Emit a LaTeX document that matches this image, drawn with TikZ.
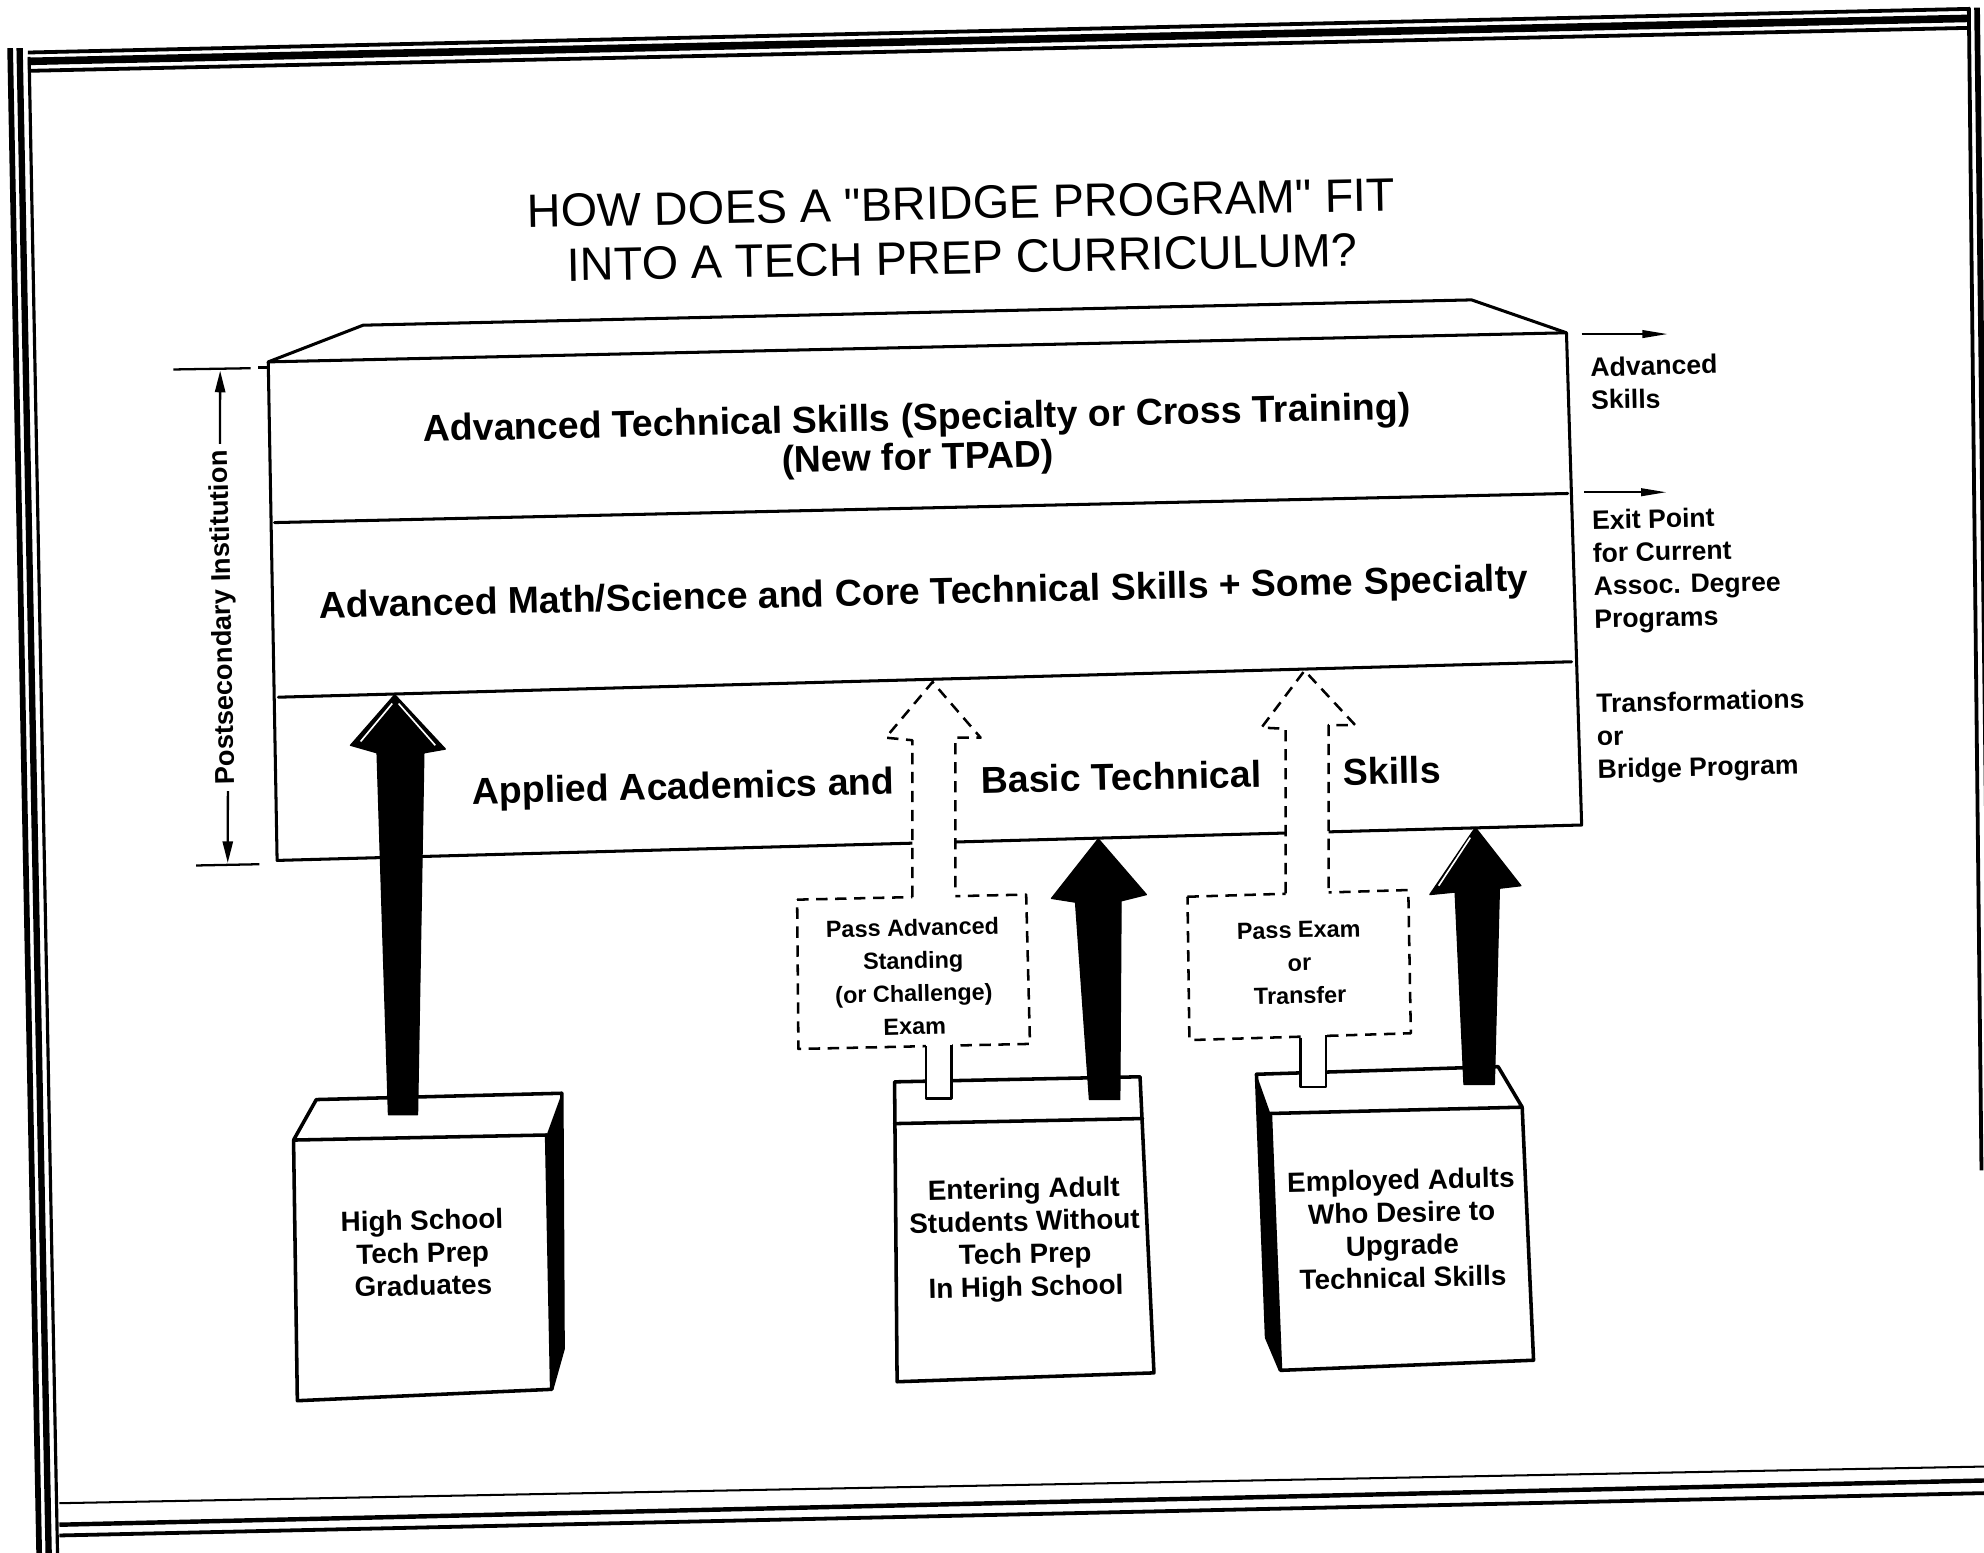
\documentclass[tikz,border=0pt]{standalone}
\usepackage{fontspec}
\setmainfont{Liberation Sans}
\newfontfamily\titlefont{Liberation Sans}[Ligatures=TeXOff]
\usetikzlibrary{arrows.meta}
\begin{document}
\begin{tikzpicture}[x=1pt,y=-1pt,
  edge/.style={line width=2.4pt, line join=round, line cap=round},
  boxedge/.style={line width=2.8pt, line join=round, line cap=round},
  dashedge/.style={line width=2pt, dash pattern=on 9pt off 6pt, line join=round},
  stubedge/.style={line width=2pt, line join=round},
  solidarrow/.style={fill=black, draw=black, line width=1pt, line join=round},
  highlight/.style={white, line width=1.3pt},
  dimline/.style={line width=1.8pt},
  exitarrow/.style={line width=1.6pt, -{Triangle[length=20pt,width=6pt]}},
  titletext/.style={font=\titlefont\fontsize{37}{43}\selectfont, inner sep=0pt, rotate=1.1, align=center},
  bodytext/.style={font=\bfseries\fontsize{29.6}{31}\selectfont, inner sep=0pt, rotate=1.3, align=center},
  sidetext/.style={font=\bfseries\fontsize{21}{26}\selectfont, inner sep=0pt, rotate=1.3, anchor=west, align=left},
  boxtext/.style={font=\bfseries\fontsize{22}{25.8}\selectfont, inner sep=0pt, rotate=1.3, align=center},
  examtext/.style={font=\bfseries\fontsize{18.5}{26}\selectfont, inner sep=0pt, rotate=1.3, align=center},
]
\useasboundingbox (0,0) rectangle (1568,1227);
\fill[white] (0,0) rectangle (1568,1227);
\clip (0,0) rectangle (1568,1227);

% ---------- page frame ----------
\draw[line width=4.5pt] (8,38) -- (31,1230);
\draw[line width=5pt] (15.5,38) -- (38.5,1230);
\draw[line width=2.5pt] (23,45) -- (45.5,1230);
\draw[line width=3pt] (22,41.5) -- (1557,7);
\draw[line width=6pt] (22,48.5) -- (1557,14.5);
\draw[line width=3pt] (22,56) -- (1557,22);
\draw[line width=3pt] (1556,6) -- (1566,925);
\draw[line width=4.5pt] (1562.5,6) -- (1571,700);
\draw[line width=1.6pt] (47,1188) -- (1570,1159);
\draw[line width=3.5pt] (47,1205) -- (1570,1170);
\draw[line width=3pt] (47,1213.5) -- (1570,1180);

% ---------- title ----------
\node[titletext] (title) at (760,182) {HOW DOES A "BRIDGE PROGRAM" FIT\\INTO A TECH PREP CURRICULUM?};

% ---------- postsecondary block ----------
\coordinate (mTL) at (212,286);
\coordinate (mTR) at (1238,263);
\coordinate (mBR) at (1250,652);
\coordinate (mBL) at (219,680);
\coordinate (bkL) at (287,257);
\coordinate (bkR) at (1163,237);
\coordinate (d1L) at (217,413);
\coordinate (d1R) at (1239,390);
\coordinate (d2L) at (220,551);
\coordinate (d2R) at (1242,523);
\draw[edge] (mTL) -- (mTR) -- (mBR) -- (mBL) -- cycle;
\draw[edge] (mTL) -- (bkL) -- (bkR) -- (mTR);
\draw[edge] (d1L) -- (d1R);
\draw[edge] (d2L) -- (d2R);

% ---------- dimension marker ----------
\node[font=\bfseries\fontsize{21.5}{24}\selectfont, rotate=91.3, inner sep=5pt] (postsec) at (177,488) {Postsecondary Institution};
\coordinate (dimTop) at (174,293);
\coordinate (dimBot) at (180,682);
\draw[dimline, -{Triangle[length=17pt,width=8pt]}] (postsec.east) -- (dimTop);
\draw[dimline, -{Triangle[length=17pt,width=8pt]}] (postsec.west) -- (dimBot);
\draw[dimline] (137,292) -- (198,291);
\draw[dimline] (204,290.5) -- (211,290.5);
\draw[dimline] (155,684) -- (205,683);

% ---------- exit arrows and labels ----------
\coordinate (exA0) at (1250,264);
\coordinate (exA1) at (1318,264);
\coordinate (exB0) at (1252,389);
\coordinate (exB1) at (1317,389);
\draw[exitarrow] (exA0) -- (exA1);
\draw[exitarrow] (exB0) -- (exB1);
\node[sidetext] (advskills) at (1257,303) {Advanced\\Skills};
\node[sidetext] (exitpt) at (1259,452) {Exit Point\\for Current\\Assoc. Degree\\Programs};
\node[sidetext] (bridge) at (1262,584) {Transformations\\or\\Bridge Program};

% ---------- student groups ----------
% high school graduates (right side shaded)
\coordinate (b1ftl) at (232,901);
\coordinate (b1ftr) at (432,897);
\coordinate (b1fbr) at (436,1098);
\coordinate (b1fbl) at (235,1107);
\coordinate (b1btl) at (250,869);
\coordinate (b1btr) at (444,864);
\coordinate (b1bbr) at (445,1066);
\fill[black] (b1ftr) -- (b1btr) -- (b1bbr) -- (b1fbr) -- cycle;
\draw[boxedge] (b1ftl) -- (b1ftr) -- (b1fbr) -- (b1fbl) -- cycle;
\draw[boxedge] (b1ftl) -- (b1btl) -- (b1btr) -- (b1bbr) -- (b1fbr);
% entering adults (seen straight on)
\coordinate (b2tl) at (707,855);
\coordinate (b2tr) at (901,851);
\coordinate (b2br) at (912,1085);
\coordinate (b2bl) at (709,1092);
\coordinate (b2fl) at (707,888);
\coordinate (b2fr) at (903,884);
\draw[boxedge] (b2tl) -- (b2tr) -- (b2br) -- (b2bl) -- cycle;
\draw[boxedge] (b2fl) -- (b2fr);
% employed adults (left side shaded)
\coordinate (b3ftl) at (1004,880);
\coordinate (b3ftr) at (1203,875);
\coordinate (b3fbr) at (1212,1075);
\coordinate (b3fbl) at (1012,1083);
\coordinate (b3btl) at (993,849);
\coordinate (b3btr) at (1184,843);
\coordinate (b3bbl) at (1001,1057);
\fill[black] (b3btl) -- (b3ftl) -- (b3fbl) -- (b3bbl) -- cycle;
\draw[boxedge] (b3ftl) -- (b3ftr) -- (b3fbr) -- (b3fbl) -- cycle;
\draw[boxedge] (b3ftr) -- (b3btr) -- (b3btl) -- (b3bbl) -- (b3fbl);

% ---------- exam boxes ----------
\coordinate (xaTL) at (630,711);
\coordinate (xaTR) at (811,707);
\coordinate (xaBR) at (814,825);
\coordinate (xaBL) at (631,829);
\draw[dashedge, fill=white] (xaTL) -- (xaTR) -- (xaBR) -- (xaBL) -- cycle;
\coordinate (xbTL) at (938.5,708.7);
\coordinate (xbTR) at (1113,703.4);
\coordinate (xbBR) at (1115,816.6);
\coordinate (xbBL) at (940,822);
\draw[dashedge, fill=white] (xbTL) -- (xbTR) -- (xbBR) -- (xbBL) -- cycle;

% stubs joining the exam boxes to the groups
\fill[white] (732,823) rectangle (752,868);
\draw[stubedge] (732,827) -- (732,868) -- (752,868) -- (752,826);
\fill[white] (1028,816) rectangle (1048,859);
\draw[stubedge] (1028,820) -- (1028,859) -- (1048,859) -- (1048,818);

% ---------- open (dashed) arrows ----------
\coordinate (aTip) at (737,539);
\fill[white] (721,712) -- (721,585) -- (700,583) -- (aTip) -- (775,583) -- (755,583) -- (755,710) -- cycle;
\draw[dashedge] (721,709) -- (721,585) -- (700,583) -- (aTip) -- (775,583) -- (755,583) -- (755,707);
\coordinate (bTip) at (1031,530);
\fill[white] (1016,709) -- (1016,576) -- (997,575) -- (bTip) -- (1071,573) -- (1050,573) -- (1050,708) -- cycle;
\draw[dashedge] (1016,706) -- (1016,576) -- (997,575) -- (bTip) -- (1071,573) -- (1050,573) -- (1050,705);

% ---------- solid arrows ----------
\coordinate (s1Tip) at (312,549);
\fill[solidarrow] (307,881) -- (298,595) -- (277,589) -- (s1Tip) -- (352,592) -- (335,595) -- (330,881) -- cycle;
\draw[highlight] (310,556) -- (285,586);
\draw[highlight] (315,556) -- (344,589);
\coordinate (s2Tip) at (868,663);
\fill[solidarrow] (861,869) -- (850,713) -- (831,710) -- (s2Tip) -- (906,707) -- (886,712) -- (885,869) -- cycle;
\coordinate (s3Tip) at (1166,654);
\fill[solidarrow] (1157,857) -- (1150,705) -- (1130,707) -- (s3Tip) -- (1202,700) -- (1185,702) -- (1181,857) -- cycle;
\draw[highlight] (1162,662) -- (1137,700);

% ---------- layer labels ----------
\node[bodytext] (advtech) at (725,348) {Advanced Technical Skills (Specialty or Cross Training)\\(New for TPAD)};
\node[bodytext] (advmath) at (730,470) {Advanced Math/Science and Core Technical Skills + Some Specialty};
\node[bodytext] (applied) at (540,624) {Applied Academics and};
\node[bodytext] (basic) at (886,614) {Basic Technical};
\node[bodytext] (skills) at (1100,609) {Skills};

% ---------- group and exam labels ----------
\node[boxtext] (grad) at (334,990) {High School\\Tech Prep\\Graduates};
\node[boxtext] (adult) at (810,980) {Entering Adult\\Students Without\\Tech Prep\\In High School};
\node[boxtext] (employed) at (1108,971) {Employed Adults\\Who Desire to\\Upgrade\\Technical Skills};
\node[examtext] (examA) at (722,772) {Pass Advanced\\Standing\\(or Challenge)\\Exam};
\node[examtext] (examB) at (1027,761) {Pass Exam\\or\\Transfer};
\end{tikzpicture}
\end{document}
